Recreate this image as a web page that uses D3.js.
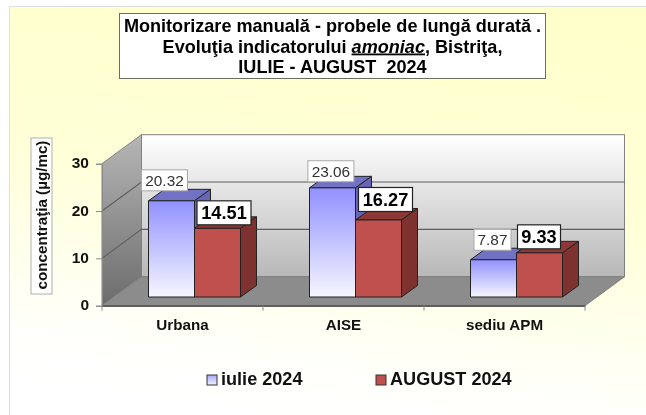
<!DOCTYPE html>
<html>
<head>
<meta charset="utf-8">
<script src="https://cdn.jsdelivr.net/npm/d3@7"></script>
<style>
    html, body { margin: 0; padding: 0; background: #fff; overflow: hidden; }
    svg { display: block; font-family: "Liberation Sans", Arial, sans-serif; filter: blur(0.35px); }
</style>
</head>
<body>
<svg id="chart" width="646" height="415"></svg>
<script>
const categories = ['Urbana', 'AISE', 'sediu APM'];
const seriesNames = ['iulie 2024', 'AUGUST 2024'];
const iulieValues = [20.32, 23.06, 7.87];
const augustValues = [14.51, 16.27, 9.33];
const yTicks = [0, 10, 20, 30];

// hand placed data labels, offset from the top of the bar front
const iulieNudge = [[-7, -20.5], [-1.6, -16.6], [-1, -20]];
const augustNudge = [[6.5, -15.5], [7, -20.5], [-0.5, -16]];

const svg = d3.select('#chart');

// 3d box of the plot
const front = {left: 102, right: 585, bottom: 305.7, top: 163.7};
const depth = {x: 39.5, y: 29};
const barDepth = {x: 16, y: 11.5};
const floorInset = {x: 12, y: 8.7};

const x = d3.scaleBand().domain(categories).range([front.left, front.right]);
const bar = d3.scaleBand().domain([0, 1]).range([0, x.bandwidth()]).paddingOuter(0.75).paddingInner(0);
const y = d3.scaleLinear().domain([0, 30]).range([front.bottom, front.top]);
const h = v => front.bottom - y(v);

const defs = svg.append('defs');

function addGradient(id, coords, stops) {
    let g = defs.append('linearGradient').attr('id', id)
        .attr('x1', coords[0]).attr('y1', coords[1]).attr('x2', coords[2]).attr('y2', coords[3]);
    stops.forEach(s => g.append('stop').attr('offset', s[0]).attr('stop-color', s[1]));
}

addGradient('bg', [0.62, 0, 0.42, 1], [[0, '#ffffcc'], [0.45, '#ffffd8'], [0.85, '#fffffa'], [1, '#ffffff']]);
addGradient('wall', [0, 0, 0, 1], [[0, '#ffffff'], [1, '#b8b8b8']]);
addGradient('side', [0, 0, 0, 1], [[0, '#b6b6b6'], [1, '#6c6c6c']]);
addGradient('blue', [0, 0, 0, 1], [[0, '#9191ff'], [1, '#f6f6ff']]);
addGradient('legendBlue', [0, 0, 0, 1], [[0, '#a8a8ff'], [1, '#f0f0ff']]);

const poly = pts => 'M' + pts.map(p => p.join(',')).join('L') + 'Z';

// page panel
svg.append('rect').attr('x', 9.5).attr('y', 6.5).attr('width', 640).attr('height', 412)
    .attr('fill', 'url(#bg)').attr('stroke', '#dedede');

// walls and floor
const backLeft = front.left + depth.x;
const backRight = front.right + depth.x;
const lineCol = '#5e5e5e';

svg.append('rect')
    .attr('x', backLeft).attr('y', front.top - depth.y)
    .attr('width', backRight - backLeft).attr('height', front.bottom - front.top)
    .attr('fill', 'url(#wall)').attr('stroke', '#808080');

svg.append('path')
    .attr('d', poly([[front.left, front.top], [backLeft, front.top - depth.y], [backLeft, front.bottom - depth.y], [front.left, front.bottom]]))
    .attr('fill', 'url(#side)').attr('stroke', '#808080');

svg.append('path')
    .attr('d', poly([[front.left, front.bottom], [backLeft, front.bottom - depth.y], [backRight, front.bottom - depth.y], [front.right, front.bottom]]))
    .attr('fill', '#8c8c8c').attr('stroke', '#808080');

// gridlines round the left wall and the back wall
svg.append('g').selectAll('path')
    .data(yTicks.slice(1, 3))
    .join('path')
    .attr('fill', 'none').attr('stroke', lineCol).attr('stroke-width', 1.1)
    .attr('d', d => `M${front.left},${y(d)}L${backLeft},${y(d) - depth.y}L${backRight},${y(d) - depth.y}`);

// bars
const seriesValues = [iulieValues, augustValues];
const seriesStyle = [
    {front: 'url(#blue)', top: '#7272c4', side: '#6666b4', nudge: iulieNudge},
    {front: '#c0504d', top: '#8c3836', side: '#7e3230', nudge: augustNudge}
];

const barX = (cat, s) => x(cat) + 12 + bar(s) - bar(0) + (x.bandwidth() - 2 * bar.bandwidth()) / 2;
const barBottom = front.bottom - floorInset.y;

categories.forEach((cat, c) => {
    seriesValues.forEach((vals, s) => {
        let bx = barX(cat, s);
        let bw = bar.bandwidth();
        let by = barBottom - h(vals[c]);
        let st = seriesStyle[s];
        let g = svg.append('g').attr('stroke', '#222').attr('stroke-width', 1).attr('stroke-linejoin', 'round');
        g.append('path').attr('fill', st.top)
            .attr('d', poly([[bx, by], [bx + barDepth.x, by - barDepth.y], [bx + bw + barDepth.x, by - barDepth.y], [bx + bw, by]]));
        g.append('path').attr('fill', st.side)
            .attr('d', poly([[bx + bw, by], [bx + bw + barDepth.x, by - barDepth.y], [bx + bw + barDepth.x, barBottom - barDepth.y], [bx + bw, barBottom]]));
        g.append('rect').attr('x', bx).attr('y', by).attr('width', bw).attr('height', barBottom - by)
            .attr('fill', st.front);
    });
});

// axes
const yAxis = d3.axisLeft(y).tickValues(yTicks).tickSize(6).tickPadding(7);
const yG = svg.append('g').attr('transform', `translate(${front.left},0)`).call(yAxis);
yG.select('.domain').attr('stroke', '#8a8a8a');
yG.selectAll('.tick line').attr('stroke', '#8a8a8a');
yG.selectAll('.tick text').attr('fill', '#111').attr('font-size', 15.5).attr('font-weight', 'bold')
    .attr('dy', '0.26em')
    .attr('font-family', '"Liberation Sans", Arial, sans-serif');

const xAxis = d3.axisBottom(x).tickSizeInner(0).tickSizeOuter(0).tickPadding(13.5);
const xG = svg.append('g').attr('transform', `translate(0,${front.bottom})`).call(xAxis);
xG.select('.domain').attr('stroke', '#333').attr('stroke-width', 1.2);
xG.selectAll('.tick text').attr('fill', '#111').attr('font-size', 15.2).attr('font-weight', 'bold')
    .attr('font-family', '"Liberation Sans", Arial, sans-serif');

// category separators under the axis
svg.append('g').selectAll('line')
    .data(d3.range(categories.length + 1))
    .join('line')
    .attr('x1', d => front.left + d * x.bandwidth()).attr('x2', d => front.left + d * x.bandwidth())
    .attr('y1', front.bottom).attr('y2', front.bottom + 5)
    .attr('stroke', '#8a8a8a');

// data labels
function addLabel(cx, cy, txt, bold) {
    let w = bold ? (txt.length > 4 ? 54 : 43) : (txt.length > 4 ? 46 : 37);
    let hh = bold ? 24 : 21;
    svg.append('rect').attr('x', cx - w / 2).attr('y', cy - hh / 2).attr('width', w).attr('height', hh)
        .attr('fill', '#fff').attr('stroke', bold ? '#222' : '#a8a8a8').attr('stroke-width', bold ? 1.2 : 1);
    svg.append('text').attr('x', cx).attr('y', cy + (bold ? 6.3 : 5.4))
        .attr('text-anchor', 'middle')
        .attr('font-size', bold ? 18.2 : 15.4)
        .attr('font-weight', bold ? 'bold' : 'normal')
        .attr('fill', bold ? '#000' : '#333')
        .text(txt);
}

categories.forEach((cat, c) => {
    seriesValues.forEach((vals, s) => {
        let n = seriesStyle[s].nudge[c];
        let cx = barX(cat, s) + bar.bandwidth() / 2 + n[0];
        let cy = barBottom - h(vals[c]) + n[1];
        addLabel(cx, cy, vals[c].toFixed(2), s === 1);
    });
});

// y axis title
svg.append('rect').attr('x', 31).attr('y', 138).attr('width', 21).attr('height', 156)
    .attr('fill', '#fff').attr('stroke', '#b0b0b0');
svg.append('text')
    .attr('transform', 'translate(47,215) rotate(-90)')
    .attr('text-anchor', 'middle')
    .attr('font-size', 15.2).attr('font-weight', 'bold').attr('fill', '#111')
    .text('concentraţia (µg/mc)');

// title box
svg.append('rect').attr('x', 119.5).attr('y', 13.5).attr('width', 426).attr('height', 65)
    .attr('fill', '#fff').attr('stroke', '#6e6e60');
const title = svg.append('text').attr('text-anchor', 'middle').attr('font-size', 18.1)
    .attr('font-weight', 'bold').attr('fill', '#000').style('white-space', 'pre');
title.append('tspan').attr('x', 332.5).attr('y', 32).text('Monitorizare manuală - probele de lungă durată .');
const line2 = title.append('tspan').attr('x', 332.5).attr('y', 52.5);
line2.append('tspan').text('Evoluţia indicatorului ');
line2.append('tspan').attr('font-style', 'italic').attr('text-decoration', 'underline').text('amoniac');
line2.append('tspan').text(', Bistriţa,');
title.append('tspan').attr('x', 332.5).attr('y', 73).text('IULIE - AUGUST  2024');

// legend
const legendX = [207, 376];
const legendFill = ['url(#legendBlue)', '#c0504d'];
const legend = svg.append('g').selectAll('g')
    .data(seriesNames)
    .join('g')
    .attr('transform', (d, i) => `translate(${legendX[i]},375)`);
legend.append('rect').attr('width', 10).attr('height', 10)
    .attr('fill', (d, i) => legendFill[i]).attr('stroke', '#333');
legend.append('text').attr('x', 14).attr('y', 10)
    .attr('font-size', 18.1).attr('font-weight', 'bold').attr('fill', '#111')
    .text(d => d);
</script>
</body>
</html>
